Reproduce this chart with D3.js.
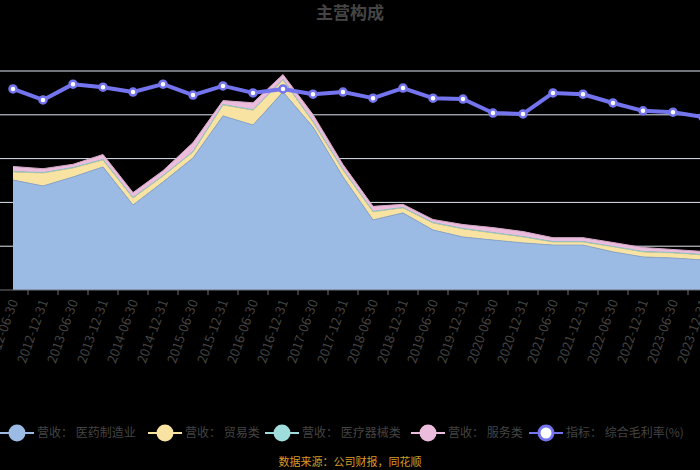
<!DOCTYPE html>
<html>
<head>
<meta charset="utf-8">
<script src="https://cdn.jsdelivr.net/npm/d3@7"></script>
<style>
  html, body { margin: 0; padding: 0; background: #000; }
  svg { display: block; font-family: "Noto Sans CJK SC", "Noto Sans", sans-serif; }
</style>
</head>
<body>
<div id="chart"></div>
<script>
var width = 700,
	height = 470;

// 报告期
var periods = ["2012-06-30","2012-12-31","2013-06-30","2013-12-31","2014-06-30","2014-12-31",
	"2015-06-30","2015-12-31","2016-06-30","2016-12-31","2017-06-30","2017-12-31",
	"2018-06-30","2018-12-31","2019-06-30","2019-12-31","2020-06-30","2020-12-31",
	"2021-06-30","2021-12-31","2022-06-30","2022-12-31","2023-06-30","2023-12-31"];

// 各板块营收（左轴）
var seriesA = [50.2,47.5,51.6,56.2,38.8,49.3,60.3,79.5,75.3,90.4,74.4,51.6,32.0,35.2,27.4,24.2,22.8,21.5,20.5,20.5,17.4,15.1,14.6,13.7];
var seriesB = [3.7,5.9,4.1,3.2,3.2,2.7,2.7,5.0,6.8,5.5,2.3,3.2,3.7,2.3,3.2,3.7,3.2,2.7,1.4,1.4,2.3,2.3,2.3,2.3];
var seriesC = [0.2,0.2,0.2,0.2,0.2,0.2,0.2,0.2,0.2,0.2,0.2,0.2,0.2,0.2,0.2,0.2,0.2,0.2,0.2,0.2,0.2,0.2,0.2,0.2];
var seriesD = [2.3,1.8,1.5,2.3,2.3,2.3,4.1,1.8,3.2,2.3,3.2,2.3,2.3,1.4,1.4,1.8,2.3,2.3,1.8,1.8,1.8,1.8,1.4,1.4];
// 毛利率（右轴）
var rate = [45.9,43.4,47.0,46.3,45.2,47.0,44.5,46.6,45.0,45.9,44.7,45.2,43.8,46.1,43.8,43.6,40.4,40.2,45.0,44.7,42.7,40.9,40.6,39.5];

var names = ["营收： 医药制造业","营收： 贸易类","营收： 医疗器械类","营收： 服务类","指标： 综合毛利率(%)"];
var colors = ["#9cbbe4","#f8e3a3","#9fdcdc","#ebbcdc","#7474ee"];

var svg = d3.select("#chart").append("svg")
	.attr("width", width)
	.attr("height", height);

var plotTop = 71, plotBottom = 290;

var x = d3.scalePoint()
	.domain(periods)
	.range([13, 703]);
var step = x.step();

var yLeft = d3.scaleLinear().domain([0, 100]).range([plotBottom, plotTop]);
var yRight = d3.scaleLinear().domain([0, 50]).range([plotBottom, plotTop]);

// 标题
svg.append("text")
	.attr("x", width / 2)
	.attr("y", 19)
	.attr("text-anchor", "middle")
	.style("font-size", "17px")
	.style("font-weight", "bold")
	.style("fill", "#444")
	.text("主营构成");

// 网格线
svg.append("g")
	.selectAll("line")
	.data(yLeft.ticks(5).filter(function(d){ return d > 0; }))
	.enter()
	.append("line")
	.attr("x1", 0)
	.attr("x2", width)
	.attr("y1", function(d){ return yLeft(d); })
	.attr("y2", function(d){ return yLeft(d); })
	.attr("stroke", "#e0e6f1")
	.attr("stroke-width", 1);

// 堆叠面积
var table = periods.map(function(p, i){
	return { period: p, a: seriesA[i], b: seriesB[i], c: seriesC[i], d: seriesD[i] };
});
var stack = d3.stack().keys(["a","b","c","d"]);
var layers = stack(table);

var area = d3.area()
	.x(function(d){ return x(d.data.period); })
	.y0(function(d){ return yLeft(d[0]); })
	.y1(function(d){ return yLeft(d[1]); });

var topLine = d3.line()
	.x(function(d){ return x(d.data.period); })
	.y(function(d){ return yLeft(d[1]); });

svg.append("g")
	.selectAll("path")
	.data(layers)
	.enter()
	.append("path")
	.attr("d", area)
	.attr("fill", function(d, i){ return colors[i]; });

svg.append("g")
	.selectAll("path")
	.data(layers)
	.enter()
	.append("path")
	.attr("d", topLine)
	.attr("fill", "none")
	.attr("stroke", function(d, i){ return d3.color(colors[i]).darker(0.3); })
	.attr("stroke-width", 1);

// x轴
var xAxis = svg.append("g").attr("transform", "translate(0," + plotBottom + ")");
xAxis.append("line")
	.attr("x1", 0).attr("x2", width)
	.attr("stroke", "#6e7079");
xAxis.selectAll(".tick")
	.data(periods)
	.enter()
	.append("line")
	.attr("x1", function(d){ return x(d) - step / 2; })
	.attr("x2", function(d){ return x(d) - step / 2; })
	.attr("y1", 0)
	.attr("y2", 5)
	.attr("stroke", "#6e7079");
xAxis.selectAll("text")
	.data(periods)
	.enter()
	.append("text")
	.attr("transform", function(d){
		return "translate(" + (x(d) + 1) + ",10) rotate(-70)";
	})
	.attr("text-anchor", "end")
	.attr("dy", "0.35em")
	.style("font-size", "13px")
	.style("fill", "#444")
	.text(function(d){ return d; });

// 毛利率折线
var rateLine = d3.line()
	.x(function(d, i){ return x(periods[i]); })
	.y(function(d){ return yRight(d); });

svg.append("path")
	.datum(rate)
	.attr("d", rateLine)
	.attr("fill", "none")
	.attr("stroke", colors[4])
	.attr("stroke-width", 4)
	.attr("stroke-linejoin", "round");

svg.append("g")
	.selectAll("circle")
	.data(rate)
	.enter()
	.append("circle")
	.attr("cx", function(d, i){ return x(periods[i]); })
	.attr("cy", function(d){ return yRight(d); })
	.attr("r", 3.5)
	.attr("fill", "#fff")
	.attr("stroke", colors[4])
	.attr("stroke-width", 2.5);

// 图例
var legendX = [17, 165, 282, 428, 546];
var legend = svg.append("g")
	.selectAll("g")
	.data(names)
	.enter()
	.append("g")
	.attr("transform", function(d, i){ return "translate(" + legendX[i] + ",433)"; });

legend.append("line")
	.attr("x1", -17).attr("x2", 17)
	.attr("stroke", function(d, i){ return colors[i]; })
	.attr("stroke-width", 2);
legend.append("circle")
	.attr("r", function(d, i){ return i === 4 ? 7 : 8.5; })
	.attr("fill", function(d, i){ return i === 4 ? "#fff" : colors[i]; })
	.attr("stroke", function(d, i){ return i === 4 ? colors[4] : "none"; })
	.attr("stroke-width", 3);
legend.append("text")
	.attr("x", 20)
	.attr("dy", "0.35em")
	.style("font-size", "12px")
	.style("fill", "#444")
	.text(function(d){ return d; });

// 数据来源
svg.append("text")
	.attr("x", width / 2)
	.attr("y", 466)
	.attr("text-anchor", "middle")
	.style("font-size", "11px")
	.style("fill", "#d89a28")
	.text("数据来源：公司财报，同花顺");
</script>
</body>
</html>
